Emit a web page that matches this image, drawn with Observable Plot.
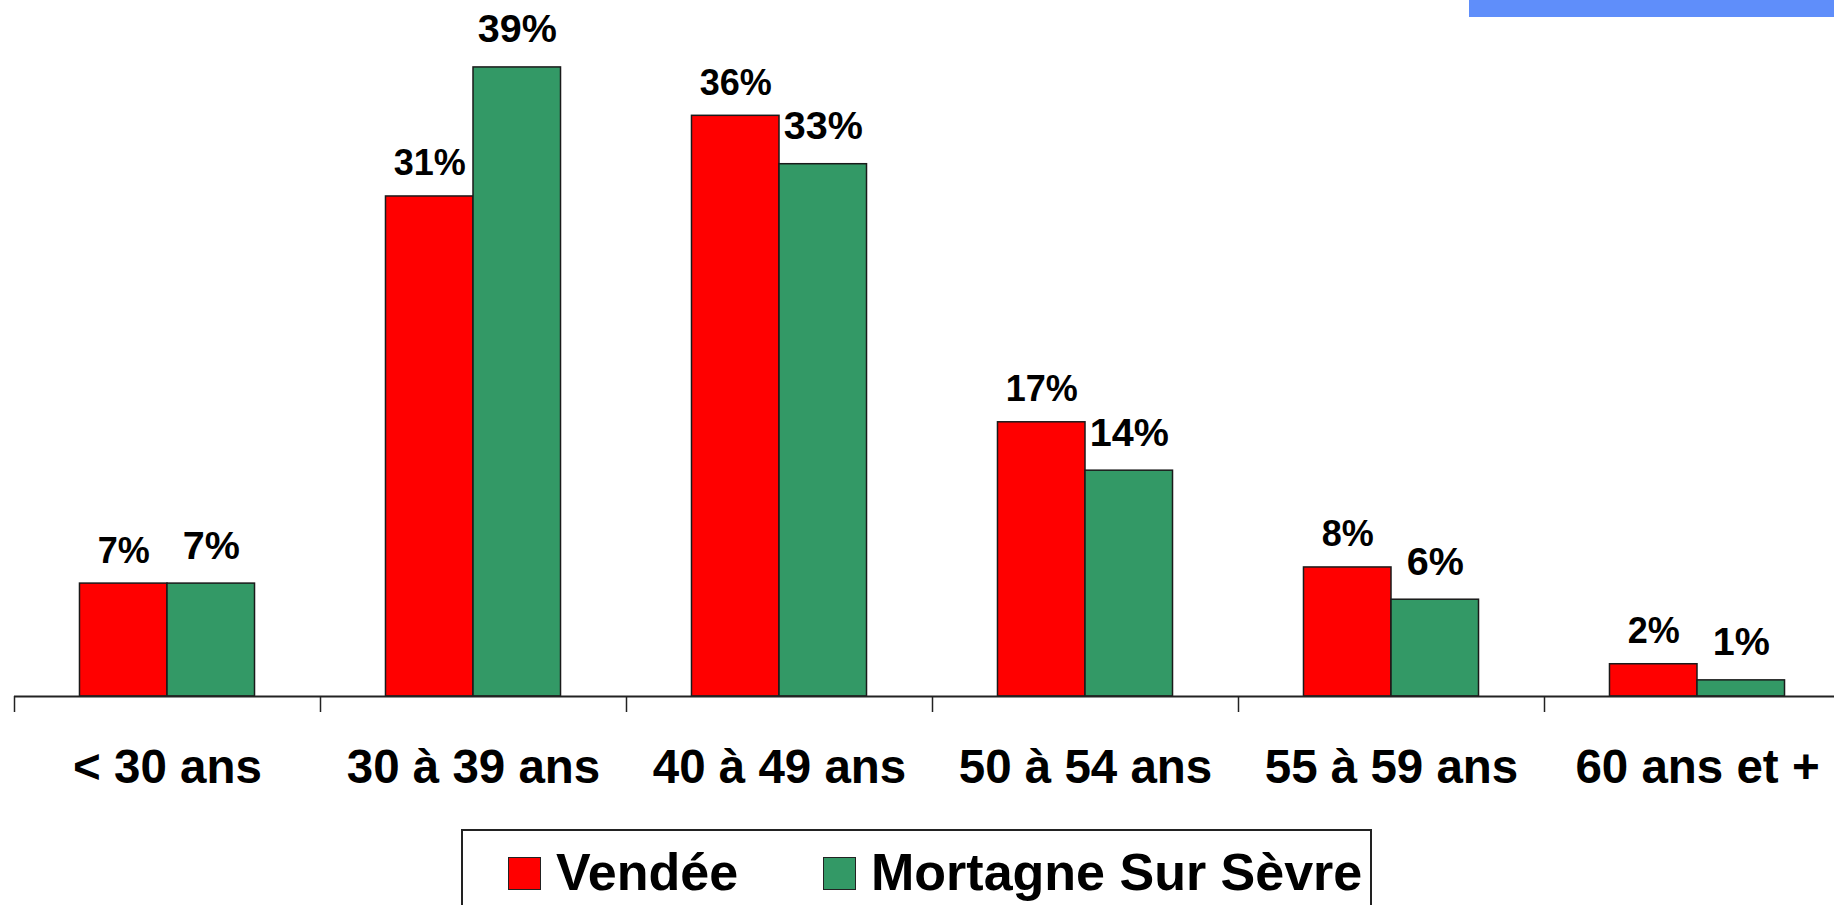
<!DOCTYPE html>
<html>
<head>
<meta charset="utf-8">
<script src="https://cdn.jsdelivr.net/npm/d3@7"></script>
<script src="https://cdn.jsdelivr.net/npm/@observablehq/plot@0.6"></script>
<style>
  html, body { margin: 0; padding: 0; background: #fff; width: 1834px; height: 905px; overflow: hidden; position: relative; }
  body { font-family: "Liberation Sans", Arial, sans-serif; }
  #deco { position: absolute; left: 1469px; top: 0; width: 365px; height: 17px; background: #5f8efa; }
  #chart svg { display: block; }
  #legend { position: absolute; left: 461px; top: 829px; width: 911px; height: 120px; border: 2px solid #222; box-sizing: border-box; }
  #legend .sw { position: absolute; top: 26px; width: 33px; height: 33px; border: 1.5px solid #222; box-sizing: border-box; }
  #legend .lb { position: absolute; top: 15px; font-size: 52px; line-height: 52px; font-weight: bold; color: #000; white-space: nowrap; }
</style>
</head>
<body>
<div id="deco"></div>
<div id="chart"></div>
<div id="legend"></div>
<script>
const categories = ["< 30 ans", "30 à 39 ans", "40 à 49 ans", "50 à 54 ans", "55 à 59 ans", "60 ans et +"];
const series = ["Vendée", "Mortagne Sur Sèvre"];
const vendee = [7, 31, 36, 17, 8, 2];
const mortagne = [7, 39, 33, 14, 6, 1];
const seriesColors = ["#ff0000", "#339966"];

const values = [vendee, mortagne];
const rows = categories.flatMap((c, i) => series.map((s, k) => ({cat: c, i, k, series: s, value: values[k][i]})));

const W = 0.286; // bar width in category units
const x1 = d => d.i + 0.5 - (d.k === 0 ? W : 0);
const x2 = d => d.i + 0.5 + (d.k === 1 ? W : 0);
const xc = d => d.i + 0.5 + (d.k === 0 ? -W / 2 : W / 2);

const plot = Plot.plot({
  width: 1834,
  height: 820,
  marginLeft: 14,
  marginRight: 0,
  marginTop: 0,
  marginBottom: 124,
  style: {fontFamily: "'Liberation Sans', Arial, sans-serif", fontWeight: "bold", background: "#fff", color: "#000"},
  x: {type: "linear", domain: [0, 6], range: [14, 1850]},
  y: {domain: [0, 40], range: [696, 696 - 40 * 16.13], axis: null},
  color: {domain: series, range: seriesColors},
  marks: [
    Plot.rectY(rows, {x1, x2, y: "value", fill: "series", stroke: "#1a1a1a", strokeWidth: 1.5}),
    Plot.ruleY([0], {stroke: "#222", strokeWidth: 2}),
    Plot.axisX({ticks: d3.range(6), tickSize: 16, tickFormat: () => "", stroke: "#222", strokeWidth: 1.5}),
    Plot.axisX({ticks: d3.range(6).map(i => i + 0.5), tickSize: 0, tickPadding: 53,
      tickFormat: v => categories[Math.floor(v)], fontSize: 47.5, fontWeight: "bold", fill: "#000"}),
    Plot.text(rows.filter(d => d.k === 0), {x: xc, y: "value", text: d => d.value + "%", dy: -21,
      lineAnchor: "bottom", fontSize: 36, fontWeight: "bold", fill: "#000"}),
    Plot.text(rows.filter(d => d.k === 1), {x: xc, y: "value", text: d => d.value + "%", dy: -25,
      lineAnchor: "bottom", fontSize: 39.5, fontWeight: "bold", fill: "#000"})
  ]
});
document.getElementById("chart").appendChild(plot);

const legend = document.getElementById("legend");
const color = plot.scale("color");
const swLeft = [45, 360];
series.forEach((s, k) => {
  const sw = document.createElement("div");
  sw.className = "sw";
  sw.style.left = swLeft[k] + "px";
  sw.style.background = color.range[k];
  legend.appendChild(sw);
  const lb = document.createElement("div");
  lb.className = "lb";
  lb.style.left = (swLeft[k] + 48) + "px";
  lb.textContent = s;
  legend.appendChild(lb);
});
</script>
</body>
</html>
